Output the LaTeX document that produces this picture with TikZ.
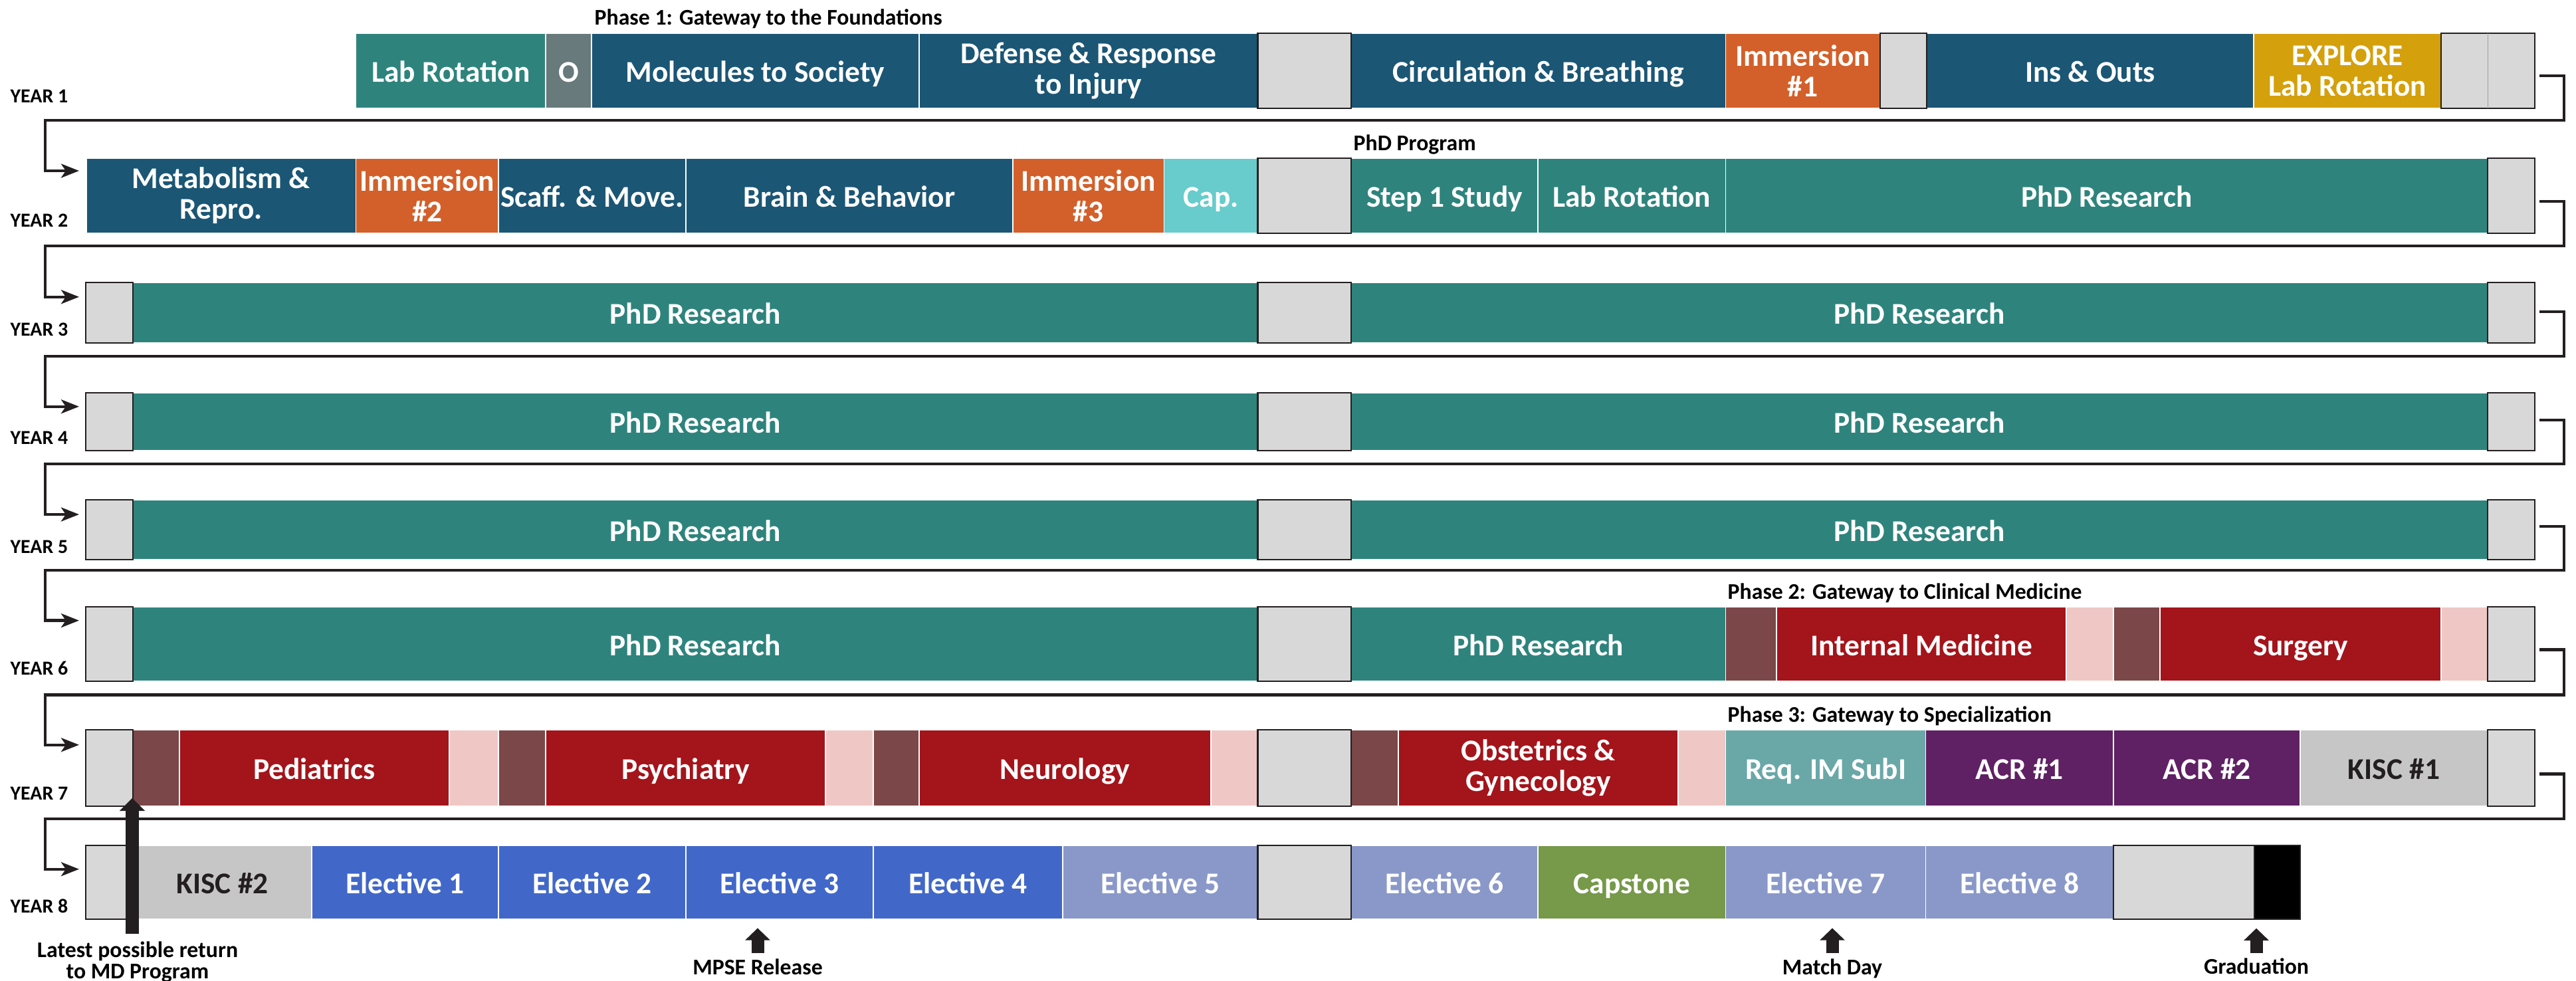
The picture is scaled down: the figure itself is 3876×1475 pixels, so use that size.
\documentclass[tikz,border=0pt]{standalone}
\usepackage{fontspec}
\setmainfont{Carlito}
\usetikzlibrary{arrows.meta}
\definecolor{teal1}{HTML}{2E847D}
\definecolor{navy1}{HTML}{1B5675}
\definecolor{slate1}{HTML}{687A7B}
\definecolor{orng}{HTML}{D3602A}
\definecolor{aqua1}{HTML}{67CCCB}
\definecolor{gold1}{HTML}{D4A00C}
\definecolor{gry}{HTML}{D8D8D8}
\definecolor{red1}{HTML}{A4141B}
\definecolor{brn}{HTML}{7B4749}
\definecolor{pnk}{HTML}{EFC8C5}
\definecolor{subi}{HTML}{6AA8A8}
\definecolor{purp}{HTML}{5F2064}
\definecolor{kisc}{HTML}{C6C6C6}
\definecolor{blu1}{HTML}{4167C9}
\definecolor{blu2}{HTML}{8A98C9}
\definecolor{grn1}{HTML}{76994A}
\definecolor{ink}{HTML}{231F20}
\newcommand\mycell[7]{\node[cell,#6,minimum width={(#3-#2)*0.01cm},minimum height={(#5-#4)*0.01cm}] (#1) at ({(#2+#3)/2},{(#4+#5)/2}) {#7};}
\tikzset{
  cell/.style={rectangle, inner sep=0pt, outer sep=0pt, draw=white, line width=0.4pt, text=white, align=center, font=\fontsize{12.9}{13.1}\selectfont\bfseries},
  one/.style={text height=0.34cm, text depth=0pt},
  two/.style={execute at begin node={\rule{0pt}{0.42cm}}},
  gbox/.style={fill=gry, draw=ink, line width=0.7pt},
  ylab/.style={anchor=base west, inner sep=0pt, text=black, font=\fontsize{8.5}{10}\selectfont\bfseries},
  plab/.style={anchor=base west, inner sep=0pt, text=black, font=\fontsize{9.6}{10}\selectfont\bfseries},
  blab/.style={inner sep=0pt, text=black, align=center, font=\fontsize{9.6}{9.2}\selectfont\bfseries},
  wrap/.style={draw=ink, line width=0.043cm, -{Stealth[length=0.27cm,width=0.21cm,inset=0.07cm]}},
  bigarr/.style={draw=ink, line width=0.2cm, -{Triangle[length=0.195cm,width=0.376cm]}},
  smallarr/.style={draw=ink, line width=0.19cm, -{Triangle[length=0.183cm,width=0.367cm]}}
}
\begin{document}
\begin{tikzpicture}[x=0.01cm,y=-0.01cm]
\fill[white] (0,0) rectangle (3876,1475);
\useasboundingbox (0,0) rectangle (3876,1475);
% ---------- Row 1
\mycell{labrotA}{535.6}{821}{50}{163}{fill=teal1,one}{Lab Rotation}
\mycell{orient}{821}{890}{50}{163}{fill=slate1,one}{O}
\mycell{mol}{890}{1383}{50}{163}{fill=navy1,one}{Molecules to Society}
\mycell{def}{1383}{1892.5}{50}{163}{fill=navy1,two}{Defense \& Response\\to Injury}
\mycell{circ}{2033}{2596.5}{50}{163}{fill=navy1,one}{Circulation \& Breathing}
\mycell{immA}{2596.5}{2829}{50}{163}{fill=orng,two}{Immersion\\\#1}
\mycell{ins}{2899}{3391}{50}{163}{fill=navy1,one}{Ins \& Outs}
\mycell{expl}{3391}{3673}{50}{163}{fill=gold1,two}{EXPLORE\\Lab Rotation}
% ---------- Row 2
\mycell{met}{130}{535.6}{238}{351}{fill=navy1,two}{Metabolism \&\\Repro.}
\mycell{immB}{535.6}{750}{238}{351}{fill=orng,two}{Immersion\\\#2}
\mycell{scaff}{750}{1032}{238}{351}{fill=navy1,one}{Scaff. \& Move.}
\mycell{brain}{1032}{1524}{238}{351}{fill=navy1,one}{Brain \& Behavior}
\mycell{immC}{1524}{1751.5}{238}{351}{fill=orng,two}{Immersion\\\#3}
\mycell{cap}{1751.5}{1892.5}{238}{351}{fill=aqua1,one}{Cap.}
\mycell{step}{2033}{2314}{238}{351}{fill=teal1,one}{Step 1 Study}
\mycell{labrotB}{2314}{2596.5}{238}{351}{fill=teal1,one}{Lab Rotation}
\mycell{phdB}{2596.5}{3743}{238}{351}{fill=teal1,one}{PhD Research}
% ---------- Rows 3-5
\mycell{phdCa}{200}{1892.5}{425}{516}{fill=teal1,one}{PhD Research}
\mycell{phdCb}{2033}{3743}{425}{516}{fill=teal1,one}{PhD Research}
\mycell{phdDa}{200}{1892.5}{591}{678}{fill=teal1,one}{PhD Research}
\mycell{phdDb}{2033}{3743}{591}{678}{fill=teal1,one}{PhD Research}
\mycell{phdEa}{200}{1892.5}{752}{842}{fill=teal1,one}{PhD Research}
\mycell{phdEb}{2033}{3743}{752}{842}{fill=teal1,one}{PhD Research}
% ---------- Row 6
\mycell{phdFa}{200}{1892.5}{913}{1025}{fill=teal1,one}{PhD Research}
\mycell{phdFb}{2033}{2596.5}{913}{1025}{fill=teal1,one}{PhD Research}
\mycell{brFa}{2596.5}{2673}{913}{1025}{fill=brn}{}
\mycell{intmed}{2673}{3109}{913}{1025}{fill=red1,one}{Internal Medicine}
\mycell{pkFa}{3109}{3180}{913}{1025}{fill=pnk}{}
\mycell{brFb}{3180}{3250}{913}{1025}{fill=brn}{}
\mycell{surg}{3250}{3673}{913}{1025}{fill=red1,one}{Surgery}
\mycell{pkFb}{3673}{3743}{913}{1025}{fill=pnk}{}
% ---------- Row 7
\mycell{brGa}{200}{270}{1098}{1213}{fill=brn}{}
\mycell{peds}{270}{676}{1098}{1213}{fill=red1,one}{Pediatrics}
\mycell{pkGa}{676}{750}{1098}{1213}{fill=pnk}{}
\mycell{brGb}{750}{821}{1098}{1213}{fill=brn}{}
\mycell{psych}{821}{1242}{1098}{1213}{fill=red1,one}{Psychiatry}
\mycell{pkGb}{1242}{1314}{1098}{1213}{fill=pnk}{}
\mycell{brGc}{1314}{1383}{1098}{1213}{fill=brn}{}
\mycell{neuro}{1383}{1822}{1098}{1213}{fill=red1,one}{Neurology}
\mycell{pkGc}{1822}{1892.5}{1098}{1213}{fill=pnk}{}
\mycell{brGd}{2033}{2104}{1098}{1213}{fill=brn}{}
\mycell{obgyn}{2104}{2525}{1098}{1213}{fill=red1,two}{Obstetrics \&\\Gynecology}
\mycell{pkGd}{2525}{2596.5}{1098}{1213}{fill=pnk}{}
\mycell{subi}{2596.5}{2897.5}{1098}{1213}{fill=subi,one}{Req. IM SubI}
\mycell{acrA}{2897.5}{3180}{1098}{1213}{fill=purp,one}{ACR \#1}
\mycell{acrB}{3180}{3461}{1098}{1213}{fill=purp,one}{ACR \#2}
\mycell{kiscA}{3461}{3743}{1098}{1213}{fill=kisc,one,text=ink}{KISC \#1}
% ---------- Row 8
\mycell{kiscB}{200}{469}{1272}{1383}{fill=kisc,one,text=ink}{KISC \#2}
\mycell{elA}{469}{750}{1272}{1383}{fill=blu1,one}{Elective 1}
\mycell{elB}{750}{1032}{1272}{1383}{fill=blu1,one}{Elective 2}
\mycell{elC}{1032}{1314}{1272}{1383}{fill=blu1,one}{Elective 3}
\mycell{elD}{1314}{1599}{1272}{1383}{fill=blu1,one}{Elective 4}
\mycell{elE}{1599}{1892.5}{1272}{1383}{fill=blu2,one}{Elective 5}
\mycell{elF}{2033}{2314}{1272}{1383}{fill=blu2,one}{Elective 6}
\mycell{capst}{2314}{2596.5}{1272}{1383}{fill=grn1,one}{Capstone}
\mycell{elG}{2596.5}{2897.5}{1272}{1383}{fill=blu2,one}{Elective 7}
\mycell{elH}{2897.5}{3180}{1272}{1383}{fill=blu2,one}{Elective 8}
\mycell{blackend}{3392}{3461}{1272}{1383}{fill=black,draw=ink}{}
% ---------- grey breaks
\mycell{gaA}{1892.5}{2033}{50}{163}{gbox}{}
\mycell{gbA}{2829}{2899}{50}{163}{gbox}{}
\mycell{gcA}{3673}{3814}{50}{163}{gbox}{}
\draw[gray!75, line width=0.3pt] (gcA.north) -- (gcA.south);
\mycell{gaB}{1892.5}{2033}{238}{351}{gbox}{}
\mycell{gcB}{3743}{3814}{238}{351}{gbox}{}
\mycell{glC}{129}{200}{425}{516}{gbox}{}
\mycell{gaC}{1892.5}{2033}{425}{516}{gbox}{}
\mycell{gcC}{3743}{3814}{425}{516}{gbox}{}
\mycell{glD}{129}{200}{591}{678}{gbox}{}
\mycell{gaD}{1892.5}{2033}{591}{678}{gbox}{}
\mycell{gcD}{3743}{3814}{591}{678}{gbox}{}
\mycell{glE}{129}{200}{752}{842}{gbox}{}
\mycell{gaE}{1892.5}{2033}{752}{842}{gbox}{}
\mycell{gcE}{3743}{3814}{752}{842}{gbox}{}
\mycell{glF}{129}{200}{913}{1025}{gbox}{}
\mycell{gaF}{1892.5}{2033}{913}{1025}{gbox}{}
\mycell{gcF}{3743}{3814}{913}{1025}{gbox}{}
\mycell{glG}{129}{200}{1098}{1213}{gbox}{}
\mycell{gaG}{1892.5}{2033}{1098}{1213}{gbox}{}
\mycell{gcG}{3743}{3814}{1098}{1213}{gbox}{}
\mycell{glH}{129}{200}{1272}{1383}{gbox}{}
\mycell{gaH}{1892.5}{2033}{1272}{1383}{gbox}{}
\mycell{gend}{3180}{3392}{1272}{1383}{gbox}{}
% ---------- year labels
\node[ylab] (y1) at (15,154) {YEAR 1};
\node[ylab] (y2) at (15,341.5) {YEAR 2};
\node[ylab] (y3) at (15,505.5) {YEAR 3};
\node[ylab] (y4) at (15,668) {YEAR 4};
\node[ylab] (y5) at (15,832) {YEAR 5};
\node[ylab] (y6) at (15,1015.5) {YEAR 6};
\node[ylab] (y7) at (15,1203) {YEAR 7};
\node[ylab] (y8) at (15,1373) {YEAR 8};
% ---------- phase labels
\node[plab] (p1) at (894,37.5) {Phase 1: Gateway to the Foundations};
\node[plab] (pphd) at (2036,226) {PhD Program};
\node[plab] (p2) at (2599,901) {Phase 2: Gateway to Clinical Medicine};
\node[plab] (p3) at (2599,1086) {Phase 3: Gateway to Specialization};
% ---------- wrap connectors
\draw[wrap] ([shift={(7,7.5)}]gcA.east) -| (3858,181) -- (68,181) |- ([shift={(-11,-37.5)}]met.west);
\draw[wrap] ([shift={(7,8.5)}]gcB.east) -| (3858,370) -- (68,370) |- ([shift={(-10,-23.8)}]glC.west);
\draw[wrap] ([shift={(7,-1.5)}]gcC.east) -| (3858,535.7) -- (68,535.7) |- ([shift={(-10,-22.8)}]glD.west);
\draw[wrap] ([shift={(7,-2.5)}]gcD.east) -| (3858,698) -- (68,698) |- ([shift={(-10,-23)}]glE.west);
\draw[wrap] ([shift={(7,-5)}]gcE.east) -| (3858,858) -- (68,858) |- ([shift={(-10,-35.4)}]glF.west);
\draw[wrap] ([shift={(7,8.5)}]gcF.east) -| (3858,1045.6) -- (68,1045.6) |- ([shift={(-10,-34.8)}]glG.west);
\draw[wrap] ([shift={(7,9.1)}]gcG.east) -| (3858,1232) -- (68,1232) |- ([shift={(-10,-19.8)}]glH.west);
% ---------- bottom labels and pointers
\node[blab, anchor=north] (ret) at (207,1416) {Latest possible return\\to MD Program};
\coordinate (rettail) at (199,1405);
\draw[bigarr] (rettail) -- ([shift={(-1,-12.3)}]glG.south east);
\node[blab, anchor=base] (mpse) at (1140,1466) {MPSE Release};
\node[blab, anchor=base] (match) at (2757,1466) {Match Day};
\node[blab, anchor=base] (grad) at (3395,1465) {Graduation};
\coordinate (mpsetip) at (1140,1396.4);
\coordinate (matchtip) at (2757,1396.4);
\coordinate (gradtip) at (3395,1396.7);
\draw[smallarr] (mpse.north |- 0,1434) -- (mpsetip);
\draw[smallarr] (match.north |- 0,1434) -- (matchtip);
\draw[smallarr] (grad.north |- 0,1434) -- (gradtip);
\end{tikzpicture}
\end{document}
